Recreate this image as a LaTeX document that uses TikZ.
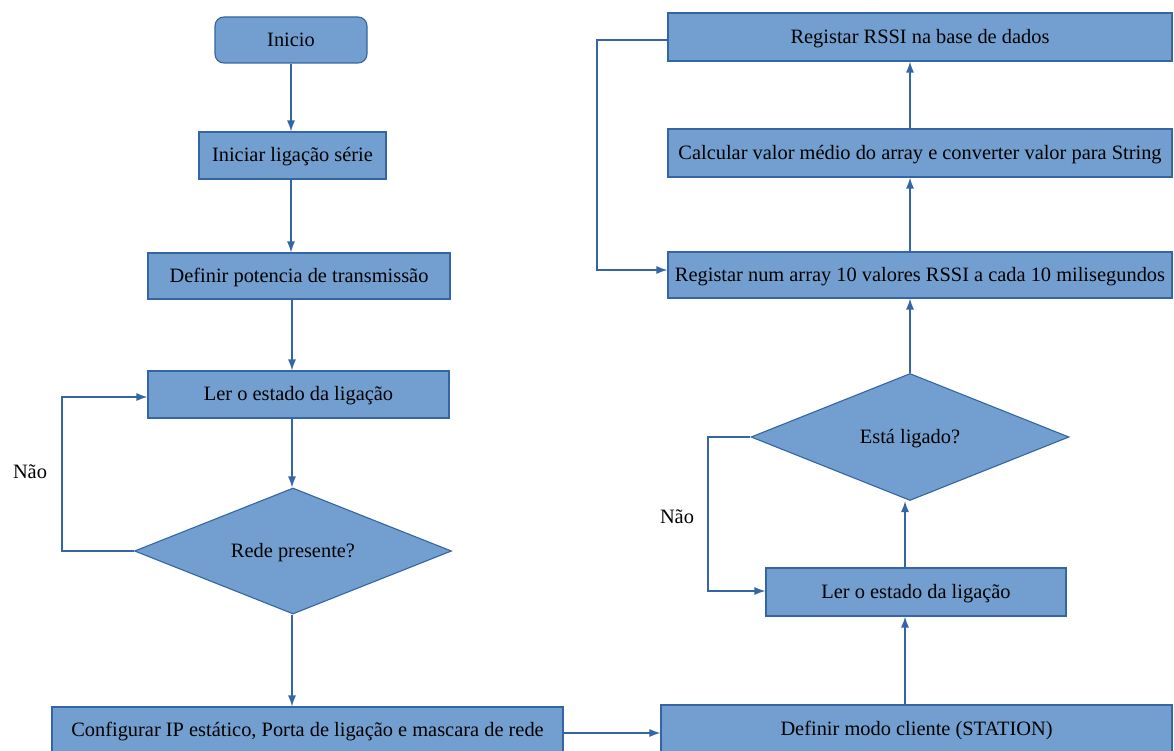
\documentclass[tikz,border=0pt]{standalone}
\usepackage{fontspec}
\setmainfont{Liberation Serif}
\usetikzlibrary{arrows.meta,shapes.geometric}
\definecolor{boxfill}{HTML}{729FCF}
\definecolor{boxline}{HTML}{3465A4}
\tikzset{
  x=1pt, y=-1pt,
  boxnode/.style={draw=boxline, fill=boxfill, line width=1.1pt, rectangle, inner sep=0pt, font=\fontsize{20.4}{22}\selectfont, text=black, text height=12.5pt, text depth=0pt},
  decnode/.style={draw=boxline, fill=boxfill, line width=1.1pt, diamond, inner sep=0pt},
  conn/.style={draw=boxline, line width=1.4pt, -{Latex[length=11pt,width=8pt]}},
  lbl/.style={font=\fontsize{20.4}{22}\selectfont, text=black, inner sep=0pt, text height=12.5pt, text depth=0pt}
}
\newcommand{\mkbox}[6]{% name, x1, y1, x2, y2, text
  \node[boxnode, minimum width={#4-#2}, minimum height={#5-#3}] (#1) at ({(#2+#4)/2},{(#3+#5)/2}) {#6};}
\begin{document}
\begin{tikzpicture}
\useasboundingbox (0,0) rectangle (1174,751);
% left column
\node[boxnode, rounded corners=9pt, minimum width=152, minimum height=46] (inicio) at (291,40) {Inicio};
\mkbox{serie}{199}{132}{386}{179}{Iniciar ligação série}
\mkbox{pot}{148}{253}{450}{299}{Definir potencia de transmissão}
\mkbox{lerA}{148}{371}{449}{418}{Ler o estado da ligação}
\node[decnode, minimum width=317, minimum height=126, aspect=2.5] (rede) at (293,551) {};
\node[lbl] at (293,551) {Rede presente?};
\mkbox{config}{52}{707}{563}{753}{Configurar IP estático, Porta de ligação e mascara de rede}
% right column
\mkbox{modo}{661}{705}{1172}{753}{Definir modo cliente (STATION)}
\mkbox{lerB}{766}{568}{1066}{616}{Ler o estado da ligação}
\node[decnode, minimum width=318, minimum height=127, aspect=2.5] (lig) at (910,437) {};
\node[lbl] at (910,437) {Está ligado?};
\mkbox{array}{668}{252}{1172}{298}{Registar num array 10 valores RSSI a cada 10 milisegundos}
\mkbox{calc}{668}{129}{1172}{177}{Calcular valor médio do array e converter valor para String}
\mkbox{bd}{668}{13}{1172}{61}{Registar RSSI na base de dados}
% connectors
\draw[conn] (inicio.south -| 291,0) -- (serie.north -| 291,0);
\draw[conn] (serie.south -| 291,0) -- (pot.north -| 291,0);
\draw[conn] (pot.south -| 292,0) -- (lerA.north -| 292,0);
\draw[conn] (lerA.south -| 292,0) -- (rede.north -| 292,0);
\draw[conn] (rede.south -| 292,0) -- (config.north -| 292,0);
\coordinate (nA1) at (62,551);
\coordinate (nA2) at (62,397);
\draw[conn] (rede.west) -- (nA1) -- (nA2) -- (nA2 -| lerA.west);
\node[lbl] (naoA) at (30,472) {Não};
\draw[conn] (config.east |- 0,733) -- (modo.west |- 0,733);
\draw[conn] (modo.north -| 905,0) -- (lerB.south -| 905,0);
\draw[conn] (lerB.north -| 905,0) -- (lig.south -| 905,0);
\coordinate (nB1) at (708,437);
\coordinate (nB2) at (708,591);
\draw[conn] (lig.west) -- (nB1) -- (nB2) -- (nB2 -| lerB.west);
\node[lbl] (naoB) at (677,517) {Não};
\draw[conn] (lig.north -| 910,0) -- (array.south -| 910,0);
\draw[conn] (array.north -| 910,0) -- (calc.south -| 910,0);
\draw[conn] (calc.north -| 910,0) -- (bd.south -| 910,0);
\coordinate (r1) at (597,40);
\coordinate (r2) at (597,270);
\draw[conn] (bd.west |- r1) -- (r1) -- (r2) -- (r2 -| array.west);
\end{tikzpicture}
\end{document}
